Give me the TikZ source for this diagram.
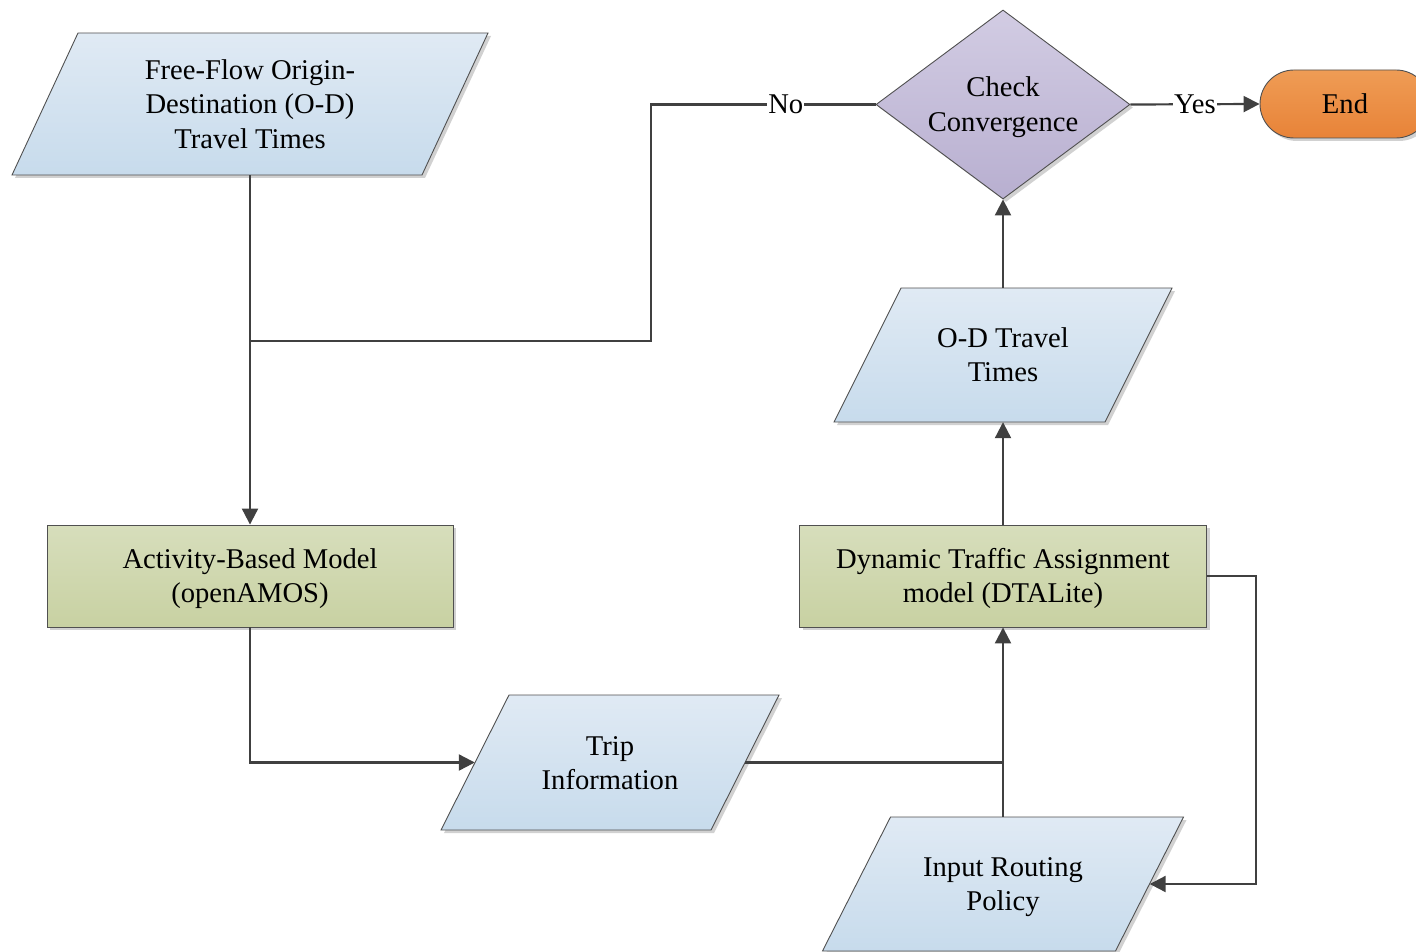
\documentclass[tikz,border=0pt]{standalone}
\usepackage{fontspec}
\setmainfont{Liberation Serif}
\usetikzlibrary{shapes.geometric,arrows.meta,shadows}

\definecolor{edge}{HTML}{505050}
\definecolor{wire}{HTML}{404040}
\definecolor{ioTop}{HTML}{E0EAF4}
\definecolor{ioBot}{HTML}{C7DBEC}
\definecolor{procTop}{HTML}{D7DEBC}
\definecolor{procBot}{HTML}{C8D1A2}
\definecolor{decTop}{HTML}{D2CCE3}
\definecolor{decBot}{HTML}{B8AFD0}
\definecolor{endTop}{HTML}{EF9C55}
\definecolor{endBot}{HTML}{E88338}

% fixed line strut so every label is centred by its line boxes
\newcommand\ls{\rule[-6pt]{0pt}{31.5pt}}

\tikzset{
  txt/.style={font=\fontsize{28.6}{34.4}\selectfont, align=center, inner sep=0pt, text=black},
  soft shadow/.style={drop shadow={shadow xshift=3pt, shadow yshift=-3pt, fill=black, opacity=0.18}},
  outlined/.style={draw=edge, line width=0.9pt, soft shadow},
  io shape/.style={outlined, top color=ioTop, bottom color=ioBot},
  proc/.style={txt, outlined, top color=procTop, bottom color=procBot, rectangle},
  dec/.style={txt, outlined, top color=decTop, bottom color=decBot, diamond},
  term/.style={txt, outlined, top color=endTop, bottom color=endBot, rectangle, rounded corners=34pt},
  conn/.style={draw=wire, line width=2.2pt},
  arr/.style={conn, -{Triangle[length=16pt,width=16pt]}},
  lbl/.style={txt, fill=white, inner sep=1pt},
}

% data box: name, centre x, centre y, mid width, height, half slant, text
\newcommand\iobox[7]{%
  \path[io shape] ({#2-#4/2+#6},{#3-#5/2}) -- ({#2+#4/2+#6},{#3-#5/2})
    -- ({#2+#4/2-#6},{#3+#5/2}) -- ({#2-#4/2-#6},{#3+#5/2}) -- cycle;
  \node[txt, minimum width=#4pt, minimum height=#5pt] (#1) at (#2,#3) {\ls#7\ls};
}

\begin{document}
\begin{tikzpicture}[x=1pt,y=-1pt]
\useasboundingbox (0,0) rectangle (1416,952);

% data boxes
\iobox{ff}{250}{104}{410}{142}{33}{Free-Flow Origin-\\Destination (O-D)\\Travel Times}
\iobox{od}{1003}{355}{271}{134}{33.5}{O-D Travel\\Times}
\iobox{trip}{610}{762.5}{270}{135}{34}{Trip\\Information}
\iobox{irp}{1003}{884}{293}{134}{34}{Input Routing\\Policy}

% process boxes
\node[proc, minimum width=406pt, minimum height=102pt] (abm) at (250,576) {\ls Activity-Based Model\\(openAMOS)\ls};
\node[proc, minimum width=407pt, minimum height=102pt] (dta) at (1003,576) {\ls Dynamic Traffic Assignment\\model (DTALite)\ls};

% decision and terminal
\node[dec, aspect=1.34, minimum width=254pt, minimum height=189pt] (dia) at (1003,104.5) {\ls Check\\Convergence\ls};
\node[term, minimum width=170pt, minimum height=68pt] (end) at (1345,104) {\ls End};

% helper points for the loop-back routes
\coordinate (join) at (250,341);
\coordinate (nobend) at (651,341);
\coordinate (loop) at (1256,576);

% connectors
\draw[arr] (ff.south) -- (abm.north);
\draw[conn] (dia.west) -- node[lbl, pos=0.4] {No} (dia.west -| nobend) -- (nobend) -- (join);
\draw[arr] (dia.east) -- node[lbl, pos=0.5] {Yes} (end.west);
\draw[arr] (abm.south) |- (trip.west);
\draw[arr] (trip.east) -| (dta.south);
\draw[conn] (irp.north) -- (irp.north |- trip.east);
\draw[arr] (dta.east) -- (loop) |- (irp.east);
\draw[arr] (dta.north) -- (od.south);
\draw[arr] (od.north) -- (dia.south);
\end{tikzpicture}
\end{document}
